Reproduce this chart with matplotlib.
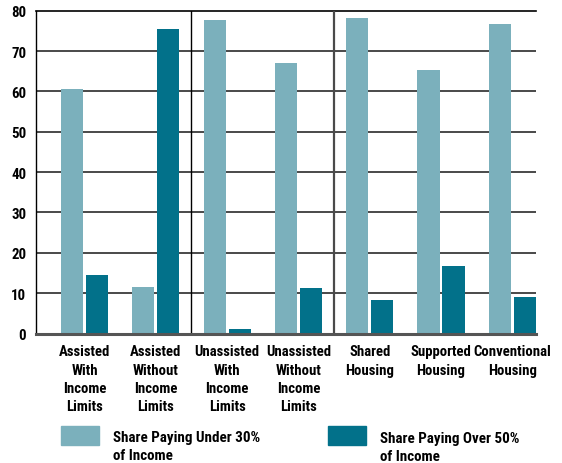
import matplotlib
matplotlib.use("Agg")
import matplotlib.pyplot as plt
from matplotlib.patches import Rectangle
from matplotlib.transforms import blended_transform_factory
from matplotlib import font_manager
import numpy as np

categories = ["Assisted\nWith\nIncome\nLimits", "Assisted\nWithout\nIncome\nLimits",
              "Unassisted\nWith\nIncome\nLimits", "Unassisted\nWithout\nIncome\nLimits",
              "Shared\nHousing", "Supported\nHousing", "Conventional\nHousing"]
under30 = [60.5, 11.6, 77.7, 67.0, 78.2, 65.2, 76.7]
over50 = [14.5, 75.4, 1.2, 11.3, 8.3, 16.8, 9.1]
series_names = ["Share Paying Under 30%\nof Income", "Share Paying Over 50%\nof Income"]
yticks = [0, 10, 20, 30, 40, 50, 60, 70, 80]
separators = [1.5, 3.5]

light = "#7BB0BC"
dark = "#02718A"

# ---- pick a condensed bold font if one is installed ----
def pick_font():
    entries = font_manager.fontManager.ttflist
    def is_cond(f):
        s = str(f.stretch).lower()
        n = f.name.lower()
        return ("condensed" in s or "narrow" in s or s in ("500", "400", "300")
                or "narrow" in n or "condensed" in n)
    def is_bold(f):
        w = f.weight
        if isinstance(w, str):
            return w.lower() in ("bold", "heavy", "black", "extra bold", "semibold", "demibold")
        return w >= 600
    cands = [f for f in entries if is_cond(f) and is_bold(f)]
    pref = ["Liberation Sans Narrow", "Roboto Condensed", "Open Sans Condensed",
            "Noto Sans Condensed", "DejaVu Sans", "Noto Sans", "Open Sans"]
    for p in pref:
        for f in cands:
            if f.name == p:
                return f.name, f.stretch
    if cands:
        return cands[0].name, cands[0].stretch
    return "Roboto", "normal"

FAM, STRETCH = pick_font()
FONT = [FAM, "DejaVu Sans"]
WEIGHT = "black"

fig = plt.figure(figsize=(5.62, 4.64), dpi=100)
renderer = fig.canvas.get_renderer()

def text_w(s, size, ls=1.0):
    t = fig.text(0, 0, s, fontfamily=FONT, fontweight=WEIGHT, fontstretch=STRETCH,
                 fontsize=size, linespacing=ls)
    bb = t.get_window_extent(renderer)
    t.remove()
    return bb.width, bb.height

def fit(s, target_px, maxsize):
    w, _ = text_w(s, 10)
    return min(maxsize, 10 * target_px / w)

def line_spacing(size, pitch_px):
    _, h1 = text_w("Ag", size, 1.0)
    _, h2 = text_w("Ag\nAg", size, 1.0)
    return pitch_px / (h2 - h1)

cat_size = fit("Conventional", 77, 11.5)
leg_size = fit("Share Paying Under 30%", 147, 11.5)
tick_size = fit("80", 15, 12)
cat_ls = line_spacing(cat_size, 19.2)
leg_ls = line_spacing(leg_size, 19.0)

ax = fig.add_axes([36/562, 1-334.5/464, (535.5-36)/562, (334.5-11.7)/464])

x = np.arange(len(categories))
w = 0.31
off = 0.175
ax.bar(x - off, under30, width=w, color=light, zorder=3)
ax.bar(x + off, over50, width=w, color=dark, zorder=3)

ax.set_xlim(-0.68, 6.325)
ax.set_ylim(0, 80)

for t in yticks:
    if t == 80:
        ax.axhline(t, color="black", lw=1.2, zorder=1, clip_on=False)
    elif t == 0:
        ax.axhline(t, color="#555555", lw=2.2, zorder=4, clip_on=False)
    else:
        ax.axhline(t, color="#3a3a3a", lw=1.3, zorder=1)

ax.axvline(separators[0], color="black", lw=1.0, zorder=2)
ax.axvline(separators[1], color="#4a4a4a", lw=1.6, zorder=2)

for s in ["top", "right", "bottom"]:
    ax.spines[s].set_visible(False)
ax.spines["left"].set_color("black")
ax.spines["left"].set_linewidth(1.0)

ax.set_yticks(yticks)
ax.set_yticklabels([str(t) for t in yticks], fontfamily=FONT, fontweight=WEIGHT,
                   fontstretch=STRETCH, fontsize=tick_size)
ax.tick_params(axis="y", length=0, pad=7)
ax.set_xticks([])

trans = blended_transform_factory(ax.transData, fig.transFigure)
for xi, lab in zip(x, categories):
    ax.text(xi, 1 - 345.5/464, lab, transform=trans, ha="center", va="top",
            fontfamily=FONT, fontweight=WEIGHT, fontstretch=STRETCH,
            fontsize=cat_size, linespacing=cat_ls)

fig.patches.append(Rectangle((60.7/562, 1-446/464), 38/562, 18.7/464,
                             transform=fig.transFigure, color=light))
fig.patches.append(Rectangle((328/562, 1-446/464), 38/562, 18.7/464,
                             transform=fig.transFigure, color=dark))
fig.text(113.3/562, 1-447.2/464, series_names[0], ha="left", va="center",
         fontfamily=FONT, fontweight=WEIGHT, fontstretch=STRETCH,
         fontsize=leg_size, linespacing=leg_ls)
fig.text(380/562, 1-448.2/464, series_names[1], ha="left", va="center",
         fontfamily=FONT, fontweight=WEIGHT, fontstretch=STRETCH,
         fontsize=leg_size, linespacing=leg_ls)

fig.savefig("out.png", dpi=100)
